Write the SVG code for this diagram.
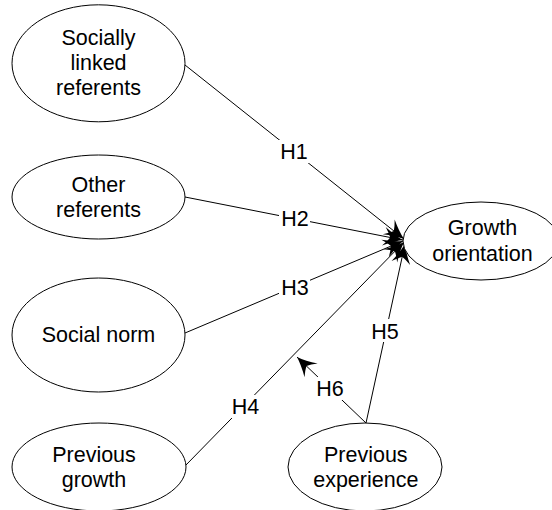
<svg xmlns="http://www.w3.org/2000/svg" width="552" height="510" viewBox="0 0 552 510">
  <style>
    .node { fill: #ffffff; stroke: #000000; stroke-width: 1; }
    .txt { font-family: "Liberation Sans", Arial, sans-serif; font-size: 21.5px; fill: #000000; text-anchor: middle; }
    .edge { stroke: #000000; stroke-width: 1; fill: none; marker-end: url(#arrow); }
    .lblbg { fill: #ffffff; stroke: none; }
  </style>
  <defs>
    <!-- swept, notched arrowhead; tip sits at the line end -->
    <marker id="arrow" viewBox="-21 -11 22 22" markerWidth="22" markerHeight="22" refX="0" refY="0" orient="auto" markerUnits="userSpaceOnUse">
      <path d="M0,0 Q-9,-3 -19.5,-9.5 Q-15,-4 -13,0 Q-15,4 -19.5,9.5 Q-9,3 0,0 Z" fill="#000000"/>
    </marker>
  </defs>

  <!-- connectors -->
  <g id="connectors">
    <line class="edge" x1="185" y1="65" x2="404" y2="239"/>
    <line class="edge" x1="185" y1="197" x2="403" y2="240"/>
    <line class="edge" x1="185" y1="333" x2="403" y2="241"/>
    <line class="edge" x1="186" y1="465" x2="404" y2="242"/>
    <line class="edge" x1="366" y1="423" x2="405" y2="244"/>
    <line class="edge" x1="366" y1="423" x2="297" y2="357"/>
  </g>

  <!-- hypothesis labels, each masking its connector -->
  <g id="labels">
    <rect class="lblbg" x="279" y="140" width="30" height="23"/>
    <text class="txt" x="294" y="159">H1</text>
    <rect class="lblbg" x="279" y="207" width="31" height="23"/>
    <text class="txt" x="295" y="226">H2</text>
    <rect class="lblbg" x="279" y="276" width="31" height="23"/>
    <text class="txt" x="295" y="295">H3</text>
    <rect class="lblbg" x="230" y="395" width="31" height="23"/>
    <text class="txt" x="245.5" y="414">H4</text>
    <rect class="lblbg" x="369" y="319" width="32" height="23"/>
    <text class="txt" x="385" y="338.5">H5</text>
    <rect class="lblbg" x="314" y="377" width="32" height="23"/>
    <text class="txt" x="330" y="396">H6</text>
  </g>

  <g id="socially-linked-referents">
    <ellipse class="node" cx="98.5" cy="63.3" rx="86.5" ry="58.5"/>
    <text class="txt" x="98.5" y="45">Socially</text>
    <text class="txt" x="98.5" y="70">linked</text>
    <text class="txt" x="98.5" y="95">referents</text>
  </g>

  <g id="other-referents">
    <ellipse class="node" cx="98.5" cy="197" rx="86.5" ry="42"/>
    <text class="txt" x="98.5" y="191.7">Other</text>
    <text class="txt" x="98.5" y="216.7">referents</text>
  </g>

  <g id="social-norm">
    <ellipse class="node" cx="98.5" cy="335" rx="86.5" ry="57"/>
    <text class="txt" x="98.5" y="341.7">Social norm</text>
  </g>

  <g id="previous-growth">
    <ellipse class="node" cx="99" cy="467" rx="87" ry="44"/>
    <text class="txt" x="94" y="461.7">Previous</text>
    <text class="txt" x="94" y="486.7">growth</text>
  </g>

  <g id="previous-experience">
    <ellipse class="node" cx="365" cy="467" rx="77" ry="44"/>
    <text class="txt" x="365.8" y="461.7">Previous</text>
    <text class="txt" x="365.8" y="486.7">experience</text>
  </g>

  <g id="growth-orientation">
    <ellipse class="node" cx="481" cy="241" rx="78" ry="39"/>
    <text class="txt" x="482.5" y="235">Growth</text>
    <text class="txt" x="482.5" y="260.5">orientation</text>
  </g>
</svg>
